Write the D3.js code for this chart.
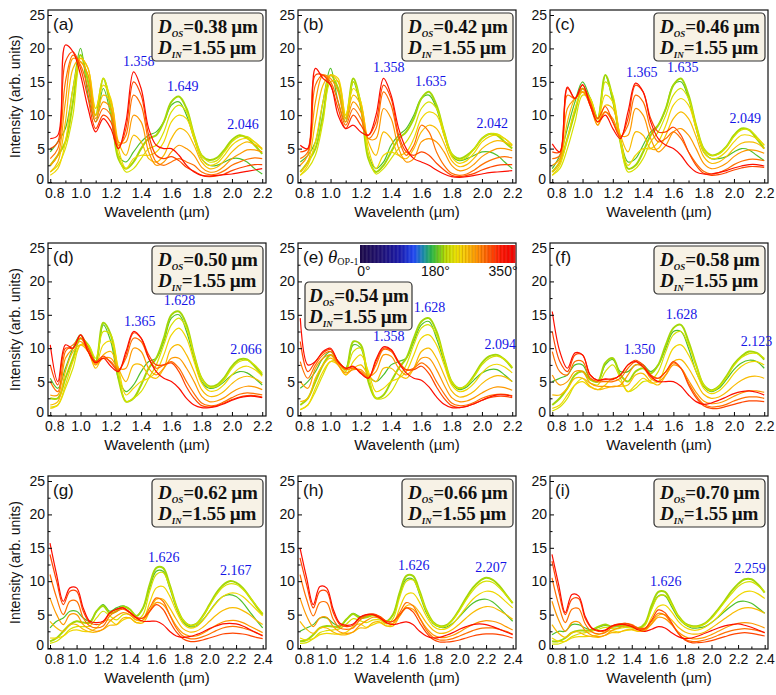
<!DOCTYPE html>
<html>
<head>
<meta charset="utf-8">
<script src="https://cdn.jsdelivr.net/npm/d3@7"></script>
<style>
body { margin: 0; background: #fff; }
</style>
</head>
<body>
<svg id="chart" width="776" height="695"></svg>
<script>
// wavelength grids (um)
var wlShort = [0.80,0.85,0.90,0.95,1.00,1.05,1.10,1.15,1.20,1.25,1.30,1.35,1.40,1.45,1.50,1.55,1.60,1.65,1.70,1.75,1.80,1.85,1.90,1.95,2.00,2.05,2.10,2.15,2.20];
var wlLong = [0.80,0.85,0.90,0.95,1.00,1.05,1.10,1.15,1.20,1.25,1.30,1.35,1.40,1.45,1.50,1.55,1.60,1.65,1.70,1.75,1.80,1.85,1.90,1.95,2.00,2.05,2.10,2.15,2.20,2.25,2.30,2.35,2.40];

// theta_OP-1 of each curve (deg), same order as the rows of every spectrum block
var angles = [180, 200, 220, 240, 260, 280, 300, 320, 350];

var panelNames = ["(a)", "(b)", "(c)", "(d)", "(e)", "(f)", "(g)", "(h)", "(i)"];
var dosValues = ["0.38", "0.42", "0.46", "0.50", "0.54", "0.58", "0.62", "0.66", "0.70"];
var dinValue = "1.55";
var peakLabels = [
  ["1.358", "1.649", "2.046"], ["1.358", "1.635", "2.042"], ["1.365", "1.635", "2.049"],
  ["1.365", "1.628", "2.066"], ["1.358", "1.628", "2.094"], ["1.350", "1.628", "2.123"],
  ["1.626", "2.167"], ["1.626", "2.207"], ["1.626", "2.259"]
];
var xTicksShort = [0.8, 1.0, 1.2, 1.4, 1.6, 1.8, 2.0, 2.2];
var xTicksLong = [0.8, 1.0, 1.2, 1.4, 1.6, 1.8, 2.0, 2.2, 2.4];
var yTicks = [0, 5, 10, 15, 20, 25];
var barTicks = [0, 180, 350];

// intensity (arb. units) on the grids above, one row per angle
var specA = [
  [4.5,6,8,14,20,13,9,14,10,4,3,4.5,6,7,7.5,9,11.5,12,10,6.5,3.5,2.5,2.5,3,3.5,3.5,3,2,1.2],
  [2.5,4,6,12,19,15,10,15.5,11,3.5,2,3,5,6.5,7,9,12,12.8,11,7,4,3.3,3.6,4.8,6.3,7,6.6,5.5,4.2],
  [1.5,2.5,5,10,18,16,11,15.5,12,4,1.5,2,3.5,5,5.5,7.5,10.5,11.5,10.5,7,4,3,3.2,4.5,6,6.8,6.8,6,4.8],
  [1,2,6,14,18.5,17,11,14.5,12.5,5,2,3.5,4,4,4.5,6,9,10,9.5,6.5,3.5,2.5,2.8,4,5.5,6.3,6.5,6,5],
  [1.5,3,9,17,18.5,17,10,13,12,6,4,7,6,3.5,3,4,6.5,8,7.5,5.5,3,2,2.2,3.2,4.5,5.5,6,5.6,5],
  [2.5,4,12,18.5,18,16,9.5,12,11,6,6,10,9,4.5,2.5,3,4.5,5.5,5,4,2.2,1.5,1.6,2.4,3.5,4.2,4.8,4.8,4.5],
  [3.5,5,15,19,17.5,14,9,11,10,5.5,7,13,11.5,6,3,2.5,3,3.5,3,2.5,1.5,1.1,1.2,1.7,2.5,3,3.4,3.6,3.5],
  [5,6,18,19.5,17,12.5,8,10,9,5,8,15,13,7,4,3.5,3.8,3.2,2.2,1.6,1,0.8,0.9,1.2,1.7,2.1,2.4,2.6,2.6],
  [6.5,7,20.5,19.5,16,11,7.5,9.5,8,5,9,16.5,14,8,5.5,5,5,4,2.5,1.5,1,0.9,1,1.1,1.2,1.4,1.6,1.8,2]
];
var specB = [
  [3,4,6,12,17,12,9,15,11,4,2,3,5.5,7,8,10,12.5,13,11,7,4,3.2,3.5,4,4.5,4.5,4,3,2],
  [1.5,3,5,10,16,14,9.5,15.5,11.5,3.5,1.5,2.5,4.5,6.5,7.5,9.5,12.5,13.5,11.5,7.5,4.2,3.5,4,5,6.5,7.2,7,6,5],
  [1,2,4,9,15,15,10,15,12,4,1.2,2,3.5,5,6,8,11,12,11,7.5,4.2,3.3,3.7,5,6.5,7.2,7.2,6.5,5.5],
  [1,2.5,6,12,16,15.5,10,14,12,5,2,4,4.5,4,4.5,6.5,9.5,10.5,10,7,3.8,2.8,3.2,4.4,6,6.8,7,6.5,5.6],
  [1.5,3,9,14.5,16,15,9.5,13,11.5,6,4,7.5,6.5,4,3.5,5,7.5,8.5,8,5.8,3.2,2.3,2.6,3.6,5,5.8,6.2,6,5.4],
  [2.5,4,12,16,15.5,13.5,9,12,10.5,6.5,6.5,11,9.5,5,3,3.5,6,6.5,6,4.5,2.5,1.7,1.9,2.7,3.8,4.5,5,5,4.7],
  [3.5,4.5,14.5,16,15,12,8.5,11,9.5,6.5,8,13.5,11.5,6.5,4,5.5,8.5,7.5,4.5,2.5,1.3,1,1.2,1.8,2.6,3.2,3.6,3.8,3.6],
  [4.5,5,16,16,14.5,11,8,10,8.5,7,9,14.5,12.5,7,4.5,4,4.5,4,2.8,1.8,1,0.8,1,1.3,1.8,2.2,2.5,2.6,2.6],
  [5.5,5,17,15.5,14.5,10,8,8.5,7.5,7,10,15.5,13,8,5,3.5,3,2.5,1.8,1.2,0.8,0.7,0.8,1,1.2,1.4,1.5,1.6,1.7]
];
var specC = [
  [2,4,8,12,15,12.5,9.5,16,12,6.5,3,3.5,5.5,7.5,8.5,11,14.5,15,12.5,8,4.5,3.5,3.5,3.8,4.5,5,4.8,4,3.2],
  [1.5,3,6.5,10.5,14,12.5,9.5,16,12.5,6,2,2.5,4.5,7,8.5,11,14.5,15.5,13,8.5,5,4,4.3,5.3,7,8,7.8,6.5,5],
  [1,2,5,9,13,12.5,9.5,15,13,6,1.5,2,3.5,6,7.5,10,13,14,12.5,8.5,5,4,4.2,5.2,6.8,7.8,7.8,6.8,5.5],
  [1,2.5,6.5,11,13.5,12.5,9,13,12,6.5,2.5,4,5,5,6,8.5,11.5,12.5,11.5,8,4.5,3.5,3.7,4.6,6,7,7,6.5,5.5],
  [1.5,3,9,12.5,13.5,12,8.5,11.5,11,7,4.5,7.5,7,5,5,7,9.5,10.5,9.5,6.8,3.8,2.8,3,3.8,5,5.8,6,5.8,5],
  [2.5,3.5,11,12.5,13.5,11.5,8.5,10.5,9.5,7,7,11,10,6.5,4.5,5.5,7.5,8,7,5,2.8,2,2.2,2.8,3.8,4.5,4.8,4.7,4.3],
  [3.5,4,13,12.5,14,11.5,9,10.5,9,6.8,8.5,13,12,8,6,6.5,7.5,6.5,4.5,2.8,1.6,1.2,1.4,1.9,2.6,3.1,3.4,3.4,3.2],
  [4.5,4.5,14,12.5,14.5,12,9.5,11.3,9,6.7,9.5,14.5,13.5,9.5,7.5,7.5,8.2,7,4.5,2.5,1.3,1,1.1,1.4,1.8,2.1,2.3,2.3,2.2],
  [5.7,4.5,14.2,12.5,14.6,11.5,9,10,8,6.5,10.5,14.8,13.5,9,6.5,5.5,5,4,2.5,1.5,1.2,1.2,1.4,1.7,2.1,2.4,2.6,2.6,2.4]
];
var specD = [
  [5.5,4,7,10,12,10,8,13.5,11,5.5,3.5,4.5,6.5,8,8.5,11,14.5,15,12.5,8.5,5,4,4.2,5,6,6.5,6.3,5.5,4.5],
  [2.5,2.5,5.5,8.5,11.5,10.5,8,13.8,12,5.5,2,2.5,4.5,7,8.5,11.5,15,15.5,13.5,9,5.5,4.3,4.5,5.6,7.3,8.3,8.3,7.3,6],
  [1.2,1.5,4,7,10.5,10.5,8.5,12.5,12,6.5,2,2.5,3.5,5.5,7.5,10.5,13.5,14.5,13,9,5.5,4.2,4.3,5.3,7,8,8.2,7.5,6.3],
  [1,1.5,4.5,8,10.5,10,7.5,10.5,11,7,3,4,5,5.5,6.5,9,12,13,11.5,8,4.8,3.6,3.7,4.6,6,7,7.3,6.8,5.8],
  [1.5,2,6.5,9.5,10.5,9.5,7,9,9.5,7,5,7.5,7.5,6,5.5,7,10,10.5,9,6.5,3.8,2.8,2.9,3.6,4.7,5.5,5.8,5.5,4.8],
  [3,3,8.5,10,11,9.5,7.5,8.5,8.5,7,7,10,9.5,7,6,7,8.5,8.5,7,5,2.8,2,2.1,2.6,3.4,4,4.3,4.2,3.8],
  [5,3.5,9.5,10.5,11.5,9.5,7.8,8.5,8,6.8,8.5,11.5,11,8.5,7,7.5,8,7,5,3.2,1.8,1.4,1.5,2,2.6,3.1,3.3,3.2,3],
  [7.5,4.5,10,10,12,10,8,8.8,7.8,6.6,9,12.3,11.5,9,7.5,7.5,7.8,6.5,4.2,2.5,1.4,1.2,1.4,1.8,2.3,2.7,2.9,2.9,2.7],
  [10.5,5,10.5,10,12,9.5,7.8,8.5,7.3,6.5,9.5,12.5,11.5,8.5,6.5,5.5,5,4,2.5,1.5,1.1,1.1,1.3,1.7,2.2,2.6,2.8,2.8,2.6]
];
var specE = [
  [4,5,6.5,8.5,9.5,8,7,10.5,10,6,5,6,7.5,8,8.5,11,13.5,14,11.5,8,4.8,3.8,4.2,5.3,6.3,6.8,6.8,6,5],
  [1.5,2.5,5,7.5,9,8,6.8,11,10.5,5,2.5,3,5,7,8.5,11.5,14,14.5,12.5,8.5,5,4,4.5,6,7.8,8.8,9,8.3,7],
  [0.8,1.5,3.5,6,8,8,6.5,9.5,10,6,2.5,2.5,3.5,5.5,7.5,10.5,13,13.5,12,8.5,5,4,4.5,5.8,7.5,8.5,8.8,8.3,7.2],
  [0.8,1.5,4,6.5,8,7.5,6,8,9,6.5,3.5,4,5,5.5,6.5,9,11.5,12,10.5,7.5,4.5,3.5,3.8,4.8,6.3,7.3,7.6,7.2,6.3],
  [2,2.5,5.5,7.5,8.5,7.5,6,7,7.5,6,5,7,7,6,5.5,7,9.5,10,8.5,6,3.6,2.7,2.9,3.6,4.7,5.5,5.9,5.7,5],
  [5,4,7,8.5,9,7.5,6.3,6.8,6.8,5.8,6.5,9,8.8,7,6,7,8.5,8.5,6.8,4.5,2.6,2,2.1,2.6,3.3,3.9,4.2,4.1,3.7],
  [8,5.5,7.5,9,9.5,7.8,6.8,7,6.5,5.6,7.5,9.8,9.5,7.8,6.7,7,7.8,7,5,3.2,1.8,1.4,1.5,1.9,2.5,2.9,3.1,3.1,2.9],
  [11,6.5,8,9.3,9.8,8,7,7.2,6.3,5.5,8,10,9.7,8,6.8,6.8,7.3,6.2,4.2,2.5,1.4,1.1,1.3,1.7,2.2,2.6,2.8,2.8,2.6],
  [14.5,7.5,8,9.5,10,8,7,7.3,6.2,5.5,8.3,10.2,9.8,7.8,6.3,5.5,5.2,4.2,2.7,1.6,1.1,1.1,1.3,1.7,2.2,2.7,3,3,2.8]
];
var specF = [
  [5,5.5,6,7.5,7.5,5.5,5,7.5,8.3,6.5,6.5,7.5,7.5,6.5,7.5,10,12.5,12.5,10,6.5,4.3,3.5,4,5.3,6.8,7.8,8.2,8,7],
  [1.5,2.5,4,6,6.5,5.3,5,7.8,8.5,6,5,6.5,7,6.2,7.5,10.5,13,13.5,11,7.5,4.5,3.7,4.3,5.8,7.6,8.8,9.5,9.3,8.3],
  [0.6,1.2,2.5,4.5,5.5,4.8,4.5,6.5,7.5,5.5,3.5,4,5,5.2,6.5,9.5,12,12.5,10.5,7.5,4.5,3.6,4.2,5.6,7.4,8.6,9.2,9.2,8.5],
  [1,1.5,3,4.5,5,4.2,3.8,4.5,5.5,5,3.5,4.5,5.5,4.8,5,7.5,10,10.5,9,6.5,4,3.2,3.6,4.7,6.2,7.3,7.9,8,7.5],
  [3,3,4,5.5,5.5,4.3,3.8,4,4.3,4.3,4.5,6,6.2,5,4.5,6,8,8.3,7,5,3.1,2.5,2.7,3.4,4.4,5.2,5.7,5.8,5.5],
  [6,4.5,5,6.5,6.5,4.8,4.3,4.3,4.2,4.5,6,7.5,7.2,5.5,5,6,7.5,7,5.2,3.4,2.1,1.7,1.8,2.2,2.8,3.3,3.6,3.6,3.4],
  [9.5,6.5,6,8,8,5.5,5,5,5,5.5,7,8,7.5,6,5.5,6.5,7.8,7,4.8,2.9,1.6,1.2,1.3,1.6,2.1,2.5,2.7,2.7,2.5],
  [12.5,8,6.5,9,9,6,5.2,5.3,5.3,6,7.5,8.2,7.5,6,5.5,6.5,8,7,4.5,2.6,1.4,1,1,1.3,1.6,1.9,2.1,2.1,2],
  [15.5,9.5,7,9.3,9,6,5.2,5.4,5.4,6,7.5,8,7.2,5.8,5,5,5,4.3,3,2,1.6,1.8,2.2,2.7,3.2,3.5,3.6,3.4,3]
];
var specG = [
  [3,4,4.5,5.5,5.5,4.5,4,5.5,6.5,5.5,6,6.3,5.8,4.8,6,9,11.5,11.5,9,6,4,3.2,3.3,4.2,5.5,6.8,7.7,8,7.7,6.8,5.5,4.2,3],
  [1,1.5,2.5,3.5,4,3.8,3.8,5.5,6.3,5.2,5.5,6.2,5.8,4.8,6,9.5,12,12,9.5,6.3,4.2,3.4,3.6,4.8,6.5,8.2,9.4,10,9.8,9,7.7,6.3,5],
  [0.7,1,1.8,2.8,3.2,3.2,3.3,4.5,5.5,4.8,4.2,5,5,4.2,5,8.5,11,11.3,9.2,6.3,4.2,3.4,3.6,4.7,6.3,7.9,9.1,9.6,9.5,8.8,7.7,6.4,5.2],
  [1.5,1.5,1.8,2.5,2.7,2.5,2.5,3,4,4.2,3.5,4.2,4.5,3.8,4.2,6.8,9,9.2,7.8,5.5,3.7,3,3.2,4.1,5.4,6.7,7.7,8.2,8.2,7.7,6.8,5.8,4.8],
  [4,3,2.5,3.5,3.5,2.8,2.4,2.4,2.8,3.4,3.5,4.5,4.5,3.8,3.8,5.5,7.3,7.3,6,4.3,2.9,2.4,2.5,3.1,4,4.9,5.6,6,6,5.6,5,4.2,3.5],
  [7.5,5,3.5,5,5,3.5,2.8,2.5,2.8,4,4.8,5.3,5,4.2,4.2,5.5,6.8,6.5,5,3.3,2.2,1.8,1.8,2.2,2.8,3.4,3.9,4.1,4.1,3.8,3.3,2.8,2.3],
  [11,7.5,5,7,7,4.5,3.3,3,3.3,4.8,5.5,5.8,5.3,4.5,4.5,6,7.5,7,5,3,1.8,1.4,1.4,1.7,2.1,2.6,3,3.2,3.2,3,2.7,2.3,1.9],
  [14,10,6.5,8.5,8.5,5.5,3.8,3.5,3.8,5.2,5.8,6,5.4,4.6,4.5,5.5,6.5,5.8,4,2.4,1.4,1,1,1.2,1.5,1.8,2.1,2.2,2.2,2.1,1.9,1.6,1.4],
  [15.7,11,7,9,9,6,4,3.8,4,5.3,5.8,6,5.3,4.5,4,4,4,3.5,2.5,1.8,1.6,1.7,2,2.4,2.9,3.3,3.6,3.7,3.6,3.3,2.8,2.3,1.8]
];
var specH = [
  [2.5,3,3.5,4.5,4.5,3.7,3.3,4.3,5.2,4.7,4.8,4.9,4.6,4,5,8,10.3,10.3,8,5.3,3.7,3.1,3.1,3.7,4.7,5.8,6.7,7.2,7.3,6.9,6,5,4],
  [1,1.2,2,3,3.3,3.2,3.2,4.3,5.1,4.5,4.6,4.9,4.6,4,5,8.3,10.8,10.8,8.5,5.7,3.9,3.3,3.4,4.3,5.8,7.5,9,10,10.5,10.2,9.3,8,6.7],
  [0.7,0.8,1.4,2.3,2.6,2.7,2.9,3.6,4.4,4.1,3.8,4.2,4.2,3.6,4.4,7.6,10,10.2,8.2,5.6,3.8,3.2,3.3,4.2,5.6,7.2,8.6,9.6,10,9.8,9,7.9,6.8],
  [1.5,1.2,1.4,2,2.2,2.1,2.1,2.4,3.2,3.6,3.1,3.5,3.8,3.3,3.6,6,8,8.2,6.8,4.8,3.3,2.8,2.9,3.6,4.8,6.1,7.3,8.1,8.5,8.4,7.8,6.9,6],
  [4,2.8,2.2,3,3,2.4,2,2,2.4,3,3,3.8,3.9,3.3,3.3,4.8,6.3,6.4,5.3,3.8,2.7,2.2,2.3,2.8,3.6,4.5,5.3,5.9,6.2,6.1,5.6,5,4.3],
  [7.5,4.8,3.2,4.5,4.6,3.2,2.4,2.2,2.4,3.4,4.1,4.6,4.4,3.7,3.7,4.8,6,5.8,4.5,3,2,1.6,1.6,1.9,2.4,3,3.5,3.9,4.1,4,3.7,3.2,2.7],
  [11,7.3,4.8,6.8,6.8,4.3,3,2.8,3,4.2,4.8,5,4.7,4,4,5.3,6.8,6.3,4.5,2.7,1.6,1.2,1.2,1.4,1.8,2.2,2.6,2.9,3,3,2.8,2.5,2.1],
  [13.5,9.5,6,8.5,8.5,5.3,3.5,3.2,3.4,4.5,5,5.1,4.7,4,4,5,6,5.4,3.8,2.3,1.3,0.9,0.9,1,1.2,1.5,1.8,2,2.1,2.1,2,1.8,1.5],
  [15,10.5,6.5,9.2,9,5.8,3.7,3.4,3.6,4.6,5,5,4.5,3.8,3.5,3.7,3.9,3.5,2.5,1.8,1.5,1.6,1.9,2.3,2.8,3.2,3.5,3.6,3.5,3.2,2.8,2.4,2]
];
var specI = [
  [2,2.5,2.5,3.5,3.5,3,2.7,3.1,3.4,3.2,3.2,3.3,3.1,2.9,3.6,6,7.8,7.8,6.2,4.5,3.5,3,3,3.2,3.8,4.6,5.5,6.3,6.9,7,6.7,6,5.2],
  [1,1,1.5,2.3,2.6,2.6,2.7,3.2,3.5,3.2,3.3,3.4,3.2,3,3.7,6.4,8.4,8.4,6.7,4.8,3.7,3.3,3.3,3.7,4.6,5.8,7.1,8.5,9.6,10.3,10.3,9.5,8.3],
  [0.6,0.6,1,1.7,2.1,2.3,2.5,2.8,3.1,2.9,2.9,3.1,3,2.8,3.4,5.8,7.7,7.9,6.5,4.7,3.6,3.2,3.2,3.6,4.4,5.6,6.9,8.1,9.2,9.8,9.9,9.3,8.4],
  [1.5,1,1,1.5,1.7,1.7,1.8,2,2.4,2.6,2.4,2.6,2.7,2.5,2.8,4.6,6.2,6.4,5.4,4,3.1,2.7,2.7,3.1,3.8,4.7,5.8,6.9,7.8,8.4,8.5,8.1,7.4],
  [3.5,2.2,1.6,2.3,2.4,1.9,1.7,1.6,1.9,2.3,2.3,2.7,2.8,2.5,2.6,3.7,4.9,5,4.2,3.1,2.4,2.1,2.1,2.4,3,3.7,4.4,5.1,5.7,6,6,5.7,5.2],
  [7,4.2,2.5,3.8,3.9,2.6,1.9,1.7,1.9,2.6,3,3.3,3.2,2.8,2.8,3.6,4.6,4.4,3.5,2.4,1.7,1.4,1.4,1.6,2,2.5,3,3.4,3.7,3.8,3.7,3.4,3],
  [10.5,6.5,3.8,5.8,5.9,3.6,2.4,2.1,2.3,3.1,3.5,3.7,3.5,3,3,4,5.2,4.9,3.6,2.2,1.3,1,1,1.2,1.5,1.9,2.3,2.6,2.8,2.9,2.8,2.6,2.3],
  [13,8.5,5,7.3,7.4,4.4,2.9,2.5,2.6,3.3,3.6,3.7,3.4,2.9,2.9,4.2,5.7,5.3,3.8,2.2,1.2,0.8,0.8,0.9,1.1,1.4,1.7,2,2.2,2.3,2.2,2,1.8],
  [14,9.5,5.3,8,7.8,4.7,3,2.6,2.7,3.3,3.5,3.5,3.2,2.7,2.5,2.8,3.2,3,2.3,1.7,1.4,1.5,1.8,2.2,2.6,3,3.3,3.5,3.6,3.4,3.1,2.7,2.3]
];
var spectra = [specA, specB, specC, specD, specE, specF, specG, specH, specI];

// colour map of the theta_OP-1 bar
var barStops = [-10, 40, 90, 125, 150, 170, 185, 205, 230, 255, 285, 315, 345, 380];
var barColors = ["#1c0a48", "#1e1070", "#1a1aa8", "#1e46f0", "#1a8ca0", "#28b040", "#62c820", "#b8dc00",
                 "#eae400", "#f8c400", "#ff9000", "#ff5000", "#ff1000", "#ee0000"];
var angleColor = d3.scaleLinear().domain(barStops).range(barColors).clamp(true);

var sans = "'Liberation Sans', Arial, sans-serif";
var serif = "'Liberation Serif', 'Times New Roman', serif";

var svg = d3.select("#chart");
var colLeft = [48, 298, 550], rowTop = [10, 243, 476];
var pw = 218, ph = 173;

spectra.forEach(function(spec, i) {
  var col = i % 3, row = Math.floor(i / 3);
  var longRange = row == 2;
  var grid = longRange ? wlLong : wlShort;
  var x = d3.scaleLinear().domain(longRange ? [0.785, 2.425] : [0.785, 2.225]).range([0, pw]);
  var y = d3.scaleLinear().domain([-0.15, 25.75]).range([ph, 0]);

  var g = svg.append("g").attr("transform", "translate(" + colLeft[col] + "," + rowTop[row] + ")");

  g.append("clipPath").attr("id", "clip" + i)
    .append("rect").attr("width", pw).attr("height", ph);

  var line = d3.line()
    .x(function(d) { return x(d[0]); })
    .y(function(d) { return y(d[1]); })
    .curve(d3.curveCatmullRom.alpha(0.5));

  var curves = g.append("g").attr("clip-path", "url(#clip" + i + ")");
  spec.forEach(function(vals, k) {
    curves.append("path")
      .datum(vals.map(function(v, j) { return [grid[j], v]; }))
      .attr("d", line)
      .attr("fill", "none")
      .attr("stroke", angleColor(angles[k]))
      .attr("stroke-width", angles[k] == 200 ? 2 : 1.2)
      .attr("stroke-linejoin", "round");
  });

  // axes, ticks inward
  var xt = longRange ? xTicksLong : xTicksShort;
  var xMinor = xt.slice(0, -1).map(function(t) { return t + 0.1; });
  var xAxis = g.append("g").attr("transform", "translate(0," + ph + ")")
    .call(d3.axisBottom(x).tickValues(xt).tickFormat(d3.format(".1f"))
      .tickSizeInner(-4).tickSizeOuter(0).tickPadding(5));
  g.append("g").attr("transform", "translate(0," + ph + ")")
    .call(d3.axisBottom(x).tickValues(xMinor).tickFormat("").tickSizeInner(-2.5).tickSizeOuter(0));
  var yAxis = g.append("g")
    .call(d3.axisLeft(y).tickValues(yTicks).tickSizeInner(-4).tickSizeOuter(0).tickPadding(3));
  g.append("g")
    .call(d3.axisLeft(y).tickValues(yTicks.slice(0, -1).map(function(t) { return t + 2.5; }))
      .tickFormat("").tickSizeInner(-2.5).tickSizeOuter(0));
  g.selectAll(".domain").remove();
  [xAxis, yAxis].forEach(function(a) {
    a.attr("font-family", sans).attr("font-size", 14);
    a.selectAll("text").attr("fill", "#111");
  });
  // keep the first wavelength label clear of the y "0"
  xAxis.selectAll(".tick text").filter(function(d) { return d == 0.8; }).attr("dx", 4);
  yAxis.selectAll(".tick text").filter(function(d) { return d == 0; })
    .attr("dx", -1).attr("dy", "0.1em");

  g.append("rect").attr("width", pw).attr("height", ph)
    .attr("fill", "none").attr("stroke", "#111").attr("stroke-width", 1.2);

  g.append("text").attr("x", pw / 2).attr("y", ph + 34)
    .attr("text-anchor", "middle").attr("font-family", sans).attr("font-size", 15)
    .attr("fill", "#111").text("Wavelenth (\u00b5m)");

  if (col == 0) {
    g.append("text")
      .attr("transform", "translate(-28," + (ph / 2) + ") rotate(-90)")
      .attr("text-anchor", "middle").attr("font-family", sans).attr("font-size", 14)
      .attr("fill", "#111").text("Intensity (arb. units)");
  }

  g.append("text").attr("x", 5).attr("y", 20)
    .attr("font-family", sans).attr("font-size", 17).attr("fill", "#111")
    .text(panelNames[i]);

  // peak wavelength labels, placed above the highest curve at that wavelength
  peakLabels[i].forEach(function(lbl) {
    var lam = +lbl;
    var top = 0;
    grid.forEach(function(w, j) {
      if (Math.abs(w - lam) <= 0.03) spec.forEach(function(v) { top = Math.max(top, v[j]); });
    });
    g.append("text").attr("x", x(lam) + 4).attr("y", y(top) - 6)
      .attr("text-anchor", "middle").attr("font-family", serif).attr("font-size", 14)
      .attr("fill", "#1414e6").text(lbl);
  });

  // D_OS / D_IN box
  var bw = i == 4 ? 107 : 111, bh = 48;
  var bx = i == 4 ? 7 : pw - bw - 3, by = i == 4 ? 39 : 3;
  var box = g.append("g").attr("transform", "translate(" + bx + "," + by + ")");
  box.append("rect").attr("width", bw).attr("height", bh).attr("rx", 4)
    .attr("fill", "#f7f2e6").attr("stroke", "#333").attr("stroke-width", 1.2);
  [["OS", dosValues[i], 20], ["IN", dinValue, 41]].forEach(function(r) {
    var t = box.append("text").attr("x", bw == 111 ? 6 : 4).attr("y", r[2])
      .attr("font-family", serif).attr("font-weight", "bold").attr("font-size", 19).attr("fill", "#111");
    t.append("tspan").attr("font-style", "italic").text("D");
    t.append("tspan").attr("font-style", "italic").attr("font-size", 9).attr("dy", 4).text(r[0]);
    t.append("tspan").attr("dy", -4).text("=" + r[1] + "\u2009\u00b5m");
  });

  // colour bar in panel (e)
  if (i == 4) {
    var bar = g.append("g");
    var bxs = d3.scaleLinear().domain([-10, 380]).range([62, pw - 1]);
    d3.range(-10, 380, 2).forEach(function(a) {
      bar.append("rect").attr("x", bxs(a)).attr("y", 2)
        .attr("width", bxs(a + 2) - bxs(a) + 0.4).attr("height", 18)
        .attr("fill", angleColor(a));
    });
    d3.range(184, 380, 8).forEach(function(a) {
      bar.append("line").attr("x1", bxs(a)).attr("x2", bxs(a)).attr("y1", 2).attr("y2", 20)
        .attr("stroke", "#7a3a00").attr("stroke-opacity", 0.35).attr("stroke-width", 0.6);
    });
    barTicks.forEach(function(a) {
      bar.append("text").attr("x", bxs(a)).attr("y", 33).attr("text-anchor", "middle")
        .attr("font-family", sans).attr("font-size", 14).attr("fill", "#111").text(a + "\u00b0");
    });
    var th = g.append("text").attr("x", 30).attr("y", 20)
      .attr("font-family", serif).attr("font-size", 19).attr("fill", "#111");
    th.append("tspan").attr("font-style", "italic").text("\u03b8");
    th.append("tspan").attr("font-size", 10).attr("dy", 2).text("OP-1");
  }
});
</script>
</body>
</html>
